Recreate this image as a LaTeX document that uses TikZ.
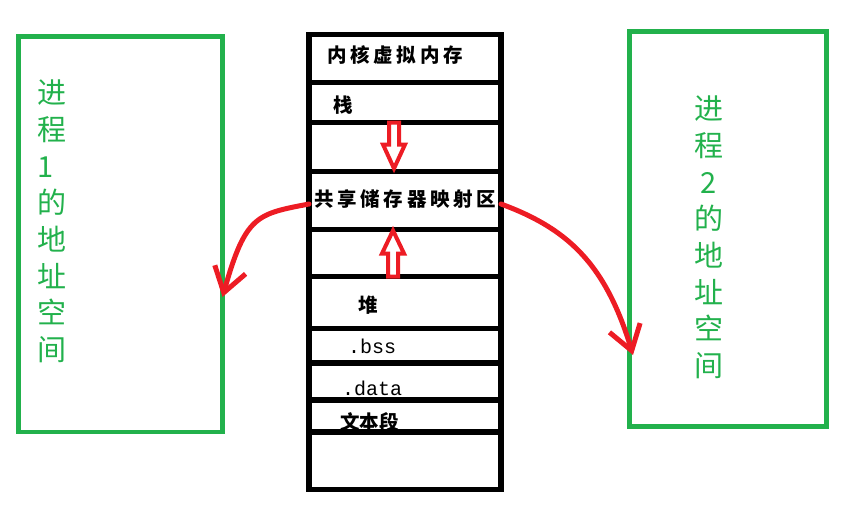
\documentclass[tikz,border=0pt]{standalone}
\usepackage{fontspec}
\usetikzlibrary{arrows.meta,positioning}
\newfontfamily\cjk{Noto Sans CJK SC}
\newfontfamily\cjkwide[LetterSpace=19]{Noto Sans CJK SC}
\newfontfamily\monof{Liberation Mono}
\definecolor{PaintGreen}{HTML}{22B14C}
\definecolor{PaintRed}{HTML}{ED1C24}

\begin{document}
\begin{tikzpicture}[x=1pt,y=-1pt]
  \tikzset{seg/.style={draw,line width=5.5pt,minimum width=192pt,inner sep=0pt,outer sep=0pt},
    segtext/.style={anchor=west,inner sep=0pt,font=\cjkwide\bfseries\fontsize{19.5}{19.5}\selectfont},
    monotext/.style={anchor=west,inner sep=0pt,font=\monof\fontsize{20}{20}\selectfont},
    space/.style={draw=PaintGreen,line width=4.7pt,inner sep=0pt,outer sep=0pt},
    spacetext/.style={text=PaintGreen,inner sep=0pt,font=\cjk\fontsize{29}{36.7}\selectfont},
    hollow/.style={draw=PaintRed,line width=4pt,fill=white,line join=miter},
    link/.style={draw=PaintRed,line width=5pt,line cap=round,-{Straight Barb[length=24pt,width=32pt]}}}
  \useasboundingbox (0,0) rectangle (865,517);

  % the two process address spaces
  \node[space,minimum width=204pt,minimum height=395.5pt] (p1) at (120.5,234.25) {};
  \node[space,minimum width=197pt,minimum height=395pt] (p2) at (728,229) {};
  \node[spacetext,align=left] (t1) at ([xshift=-68.5pt,yshift=12.75pt]p1.center) {进\\程\\1\\的\\地\\址\\空\\间};
  \node[spacetext,align=center] (t2) at ([xshift=-19pt,yshift=-8.5pt]p2.center) {进\\程\\2\\的\\地\\址\\空\\间};

  % memory layout
  \node[seg,minimum height=48pt,anchor=north west] (k) at (309,34.5) {};
  \node[seg,minimum height=40pt,below=0pt of k] (s) {};
  \node[seg,minimum height=49pt,below=0pt of s] (g1) {};
  \node[seg,minimum height=58pt,below=0pt of g1] (m) {};
  \node[seg,minimum height=47pt,below=0pt of m] (g2) {};
  \node[seg,minimum height=52pt,below=0pt of g2] (h) {};
  \node[seg,minimum height=34.5pt,below=0pt of h] (bss) {};
  \node[seg,minimum height=37pt,below=0pt of bss] (dat) {};
  \node[seg,minimum height=32pt,below=0pt of dat] (txt) {};

  \node[segtext] (kl) at ([xshift=18pt,yshift=3.5pt]k.west) {内核虚拟内存};
  \node[segtext] (sl) at ([xshift=24pt,yshift=-2.5pt]s.west) {栈};
  \node[segtext] (ml) at ([xshift=5pt,yshift=1pt]m.west) {共享储存器映射区};
  \node[segtext] (hl) at ([xshift=49pt,yshift=-2.5pt]h.west) {堆};
  \node[monotext] (bl) at ([xshift=39pt,yshift=-1pt]bss.west) {.bss};
  \node[monotext] (dl) at ([xshift=33pt,yshift=-6.5pt]dat.west) {.data};
  \node[segtext,font=\cjk\bfseries\fontsize{19.5}{19.5}\selectfont] (tl) at ([xshift=31pt,yshift=-6pt]txt.west) {文本段};
  \node[seg,minimum height=57.5pt,below=0pt of txt] (b) {};

  % stack grows down, heap grows up
  \coordinate (da) at ([xshift=-11pt]s.south);
  \draw[hollow] (da) ++(-5,0) -- ++(0,22) -- ++(-6,0) -- ++(11,24) -- ++(11,-24) -- ++(-6,0) -- ++(0,-22) -- cycle;
  \coordinate (ua) at ([xshift=-12pt]h.north);
  \draw[hollow] (ua) ++(-5,0) -- ++(0,-23) -- ++(-6,0) -- ++(11,-23) -- ++(11,23) -- ++(-6,0) -- ++(0,23) -- cycle;

  \draw[link] ([yshift=-3.5pt]m.west) .. controls +(-52,10) and +(23,-82) .. ([yshift=-62.75pt]p1.east);
  \draw[link] ([yshift=-3.5pt]m.east) .. controls +(65,24) and +(-28,-93) .. ([xshift=3.5pt,yshift=-126pt]p2.west);
\end{tikzpicture}
\end{document}
